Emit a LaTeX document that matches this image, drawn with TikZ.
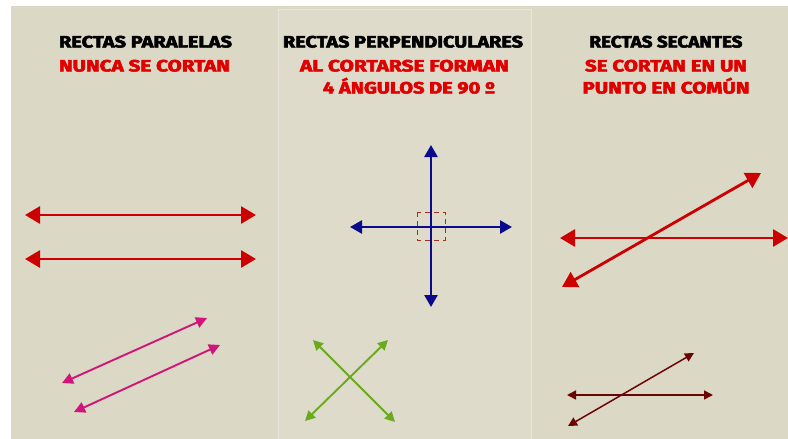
\documentclass[tikz,border=0pt]{standalone}
\usepackage{fontspec}
\setmainfont{Fira Sans}
\newfontfamily\heavyfont[BoldFeatures={FakeBold=3}]{Fira Sans}
\usetikzlibrary{arrows.meta}
\definecolor{bg}{HTML}{DBD8C5}
\definecolor{panel}{HTML}{DEDBCA}
\definecolor{panelline}{HTML}{E8E6DA}
\definecolor{titred}{HTML}{E00000}
\definecolor{bigred}{HTML}{CC0000}
\definecolor{pinkl}{HTML}{D0157A}
\definecolor{navy}{HTML}{0A0A8C}
\definecolor{greenl}{HTML}{6AAA1E}
\definecolor{maroon}{HTML}{6B0505}
\definecolor{sqred}{HTML}{A03020}
\newcommand\wtext[2]{\resizebox{#1pt}{\height}{#2}}
\tikzset{
  title/.style={font=\fontsize{16.5}{19}\heavyfont\bfseries, text=black, inner sep=0pt, anchor=center},
  subtitle/.style={font=\fontsize{16.5}{19}\heavyfont\bfseries, text=titred, inner sep=0pt, anchor=center},
  bigarrow/.style={bigred, line width=2.8pt, {Triangle[length=15pt,width=17pt]}-{Triangle[length=15pt,width=17pt]}},
  pinkarrow/.style={pinkl, line width=1.9pt, {Triangle[length=11pt,width=11pt]}-{Triangle[length=11pt,width=11pt]}},
  navyarrow/.style={navy, line width=2.5pt, {Triangle[length=12pt,width=13pt]}-{Triangle[length=12pt,width=13pt]}},
  greenarrow/.style={greenl, line width=1.9pt, {Triangle[length=10pt,width=10pt]}-{Triangle[length=10pt,width=10pt]}},
  maroonarrow/.style={maroon, line width=1.5pt, {Triangle[length=9pt,width=9pt]}-{Triangle[length=9pt,width=9pt]}},
}
\begin{document}
\begin{tikzpicture}[x=1pt,y=-1pt]
\useasboundingbox (0,0) rectangle (788,439);
\fill[white] (0,0) rectangle (788,439);
\fill[bg] (11,6) rectangle (788,439);
\fill[panel] (278,9) rectangle (531,439);
\draw[panelline, line width=0.8pt] (278,439) -- (278,9) -- (531,9) -- (531,439);

% titles
\node[title, anchor=base] (t1) at (145.5,47.5) {\wtext{173}{RECTAS PARALELAS}};
\node[subtitle, anchor=base] (s1) at (144.5,71.5) {\wtext{171}{NUNCA SE CORTAN}};
\node[title, anchor=base] (t2) at (403,47.5) {\wtext{240}{RECTAS PERPENDICULARES}};
\node[subtitle, anchor=base] (s2) at (404.5,71.5) {\wtext{209}{AL CORTARSE FORMAN}};
\node[subtitle, anchor=base] (s3) at (409,93.5) {\wtext{172}{4 ÁNGULOS DE 90 º}};
\node[title, anchor=base] (t3) at (666,47.5) {\wtext{153}{RECTAS SECANTES}};
\node[subtitle, anchor=base] (s4) at (666,71.5) {\wtext{162}{SE CORTAN EN UN}};
\node[subtitle, anchor=base] (s5) at (666,93.5) {\wtext{167}{PUNTO EN COMÚN}};

% parallel
\coordinate (p1a) at (25,215); \coordinate (p1b) at (256,215);
\coordinate (p2a) at (25,259); \coordinate (p2b) at (256,259);
\draw[bigarrow] (p1a) -- (p1b);
\draw[bigarrow] (p2a) -- (p2b);
\coordinate (q1a) at (62,383); \coordinate (q1b) at (207,318);
\coordinate (q2a) at (74,412); \coordinate (q2b) at (220,345);
\draw[pinkarrow] (q1a) -- (q1b);
\draw[pinkarrow] (q2a) -- (q2b);

% perpendicular
\coordinate (h1) at (350,227); \coordinate (h2) at (512,227);
\coordinate (v1) at (431,145); \coordinate (v2) at (431,307);
\draw[sqred, line width=0.8pt, dash pattern=on 5pt off 4pt] (417,212) rectangle (445,240);
\draw[navyarrow] (h1) -- (h2);
\draw[navyarrow] (v1) -- (v2);
\coordinate (g1a) at (313,340); \coordinate (g1b) at (395,422);
\coordinate (g2a) at (388,340); \coordinate (g2b) at (305,421);
\draw[greenarrow] (g1a) -- (g1b);
\draw[greenarrow] (g2a) -- (g2b);

% secant
\coordinate (r1a) at (560,238); \coordinate (r1b) at (788,238);
\coordinate (r2a) at (562,287); \coordinate (r2b) at (761,173);
\draw[bigarrow] (r1a) -- (r1b);
\draw[bigarrow] (r2a) -- (r2b);
\coordinate (m1a) at (567,395); \coordinate (m1b) at (713,395);
\coordinate (m2a) at (568,426); \coordinate (m2b) at (694,353);
\draw[maroonarrow] (m1a) -- (m1b);
\draw[maroonarrow] (m2a) -- (m2b);
\end{tikzpicture}
\end{document}
